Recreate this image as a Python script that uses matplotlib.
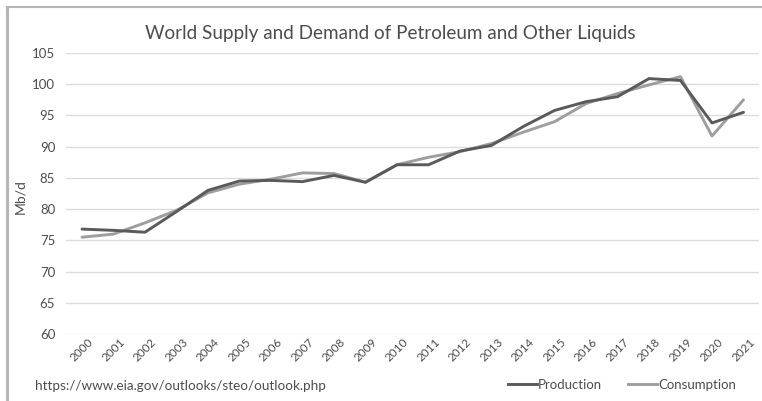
import matplotlib
matplotlib.use("Agg")
import matplotlib.pyplot as plt
from matplotlib.lines import Line2D

plt.rcParams['font.family'] = ['Lato', 'DejaVu Sans']

# world petroleum balance, million barrels per day
years = [str(y) for y in range(2000, 2022)]
production = [76.8, 76.6, 76.3, 79.6, 83.0, 84.5, 84.6, 84.4, 85.4, 84.3, 87.1,
              87.1, 89.3, 90.2, 93.2, 95.8, 97.2, 98.0, 100.9, 100.6, 93.8, 95.5]
consumption = [75.5, 76.0, 77.8, 79.8, 82.6, 84.0, 84.8, 85.8, 85.7, 84.3, 87.1,
               88.3, 89.2, 90.5, 92.3, 94.0, 96.9, 98.5, 99.9, 101.2, 91.7, 97.5]
yticks = list(range(60, 106, 5))

txt = '#4d4d4d'
fig = plt.figure(figsize=(7.62, 4.01), dpi=100)
W, H = 762, 401
ax = fig.add_axes([66.25 / W, (H - 334) / H, 693 / W, 281 / H])

x = list(range(len(years)))
ax.plot(x, production, color='#5a5a5a', lw=2.1, solid_capstyle='round', zorder=3)
ax.plot(x, consumption, color='#9e9e9e', lw=2.1, solid_capstyle='round', zorder=2)

ax.set_xlim(-0.5, len(years) - 0.5)
ax.set_ylim(60, 105)
ax.set_yticks(yticks)
ax.set_yticklabels([str(v) for v in yticks], color=txt, fontsize=9.5)
ax.set_xticks(x)
ax.set_xticklabels(years, rotation=45, color=txt, fontsize=8.5,
                   ha='center', va='top')
ax.tick_params(length=0, pad=8)
ax.tick_params(axis='x', pad=2)
ax.grid(axis='y', color='#dcdcdc', lw=1)
ax.set_axisbelow(True)
for s in ax.spines.values():
    s.set_visible(False)

fig.text(390 / W, 1 - 33 / H, 'World Supply and Demand of Petroleum and Other Liquids',
         ha='center', va='center', fontsize=13.6, color=txt)
fig.text(20 / W, 1 - 197 / H, 'Mb/d', rotation=90, ha='center', va='center',
         fontsize=10, color=txt)
fig.text(35 / W, 1 - 386 / H, 'https://www.eia.gov/outlooks/steo/outlook.php',
         ha='left', va='center', fontsize=9.7, color=txt)

# legend drawn at the bottom right
handles = [Line2D([], [], color='#5a5a5a', lw=2.1),
           Line2D([], [], color='#9e9e9e', lw=2.1)]
fig.legend(handles, ['Production', 'Consumption'], loc='center',
           bbox_to_anchor=(622 / W, 1 - 385 / H), ncol=2, frameon=False,
           fontsize=9.5, labelcolor=txt, handlelength=2.2, handletextpad=0.05,
           columnspacing=2.0)

# outer frame (left and top edges)
fig.add_artist(Line2D([7 / W, 7 / W], [0, 1 - 7 / H], color='#b5b5b5', lw=2.2,
                      transform=fig.transFigure))
fig.add_artist(Line2D([7 / W, 1], [1 - 7 / H, 1 - 7 / H], color='#b5b5b5', lw=1.5,
                      transform=fig.transFigure))

fig.savefig('out.png', dpi=100)
